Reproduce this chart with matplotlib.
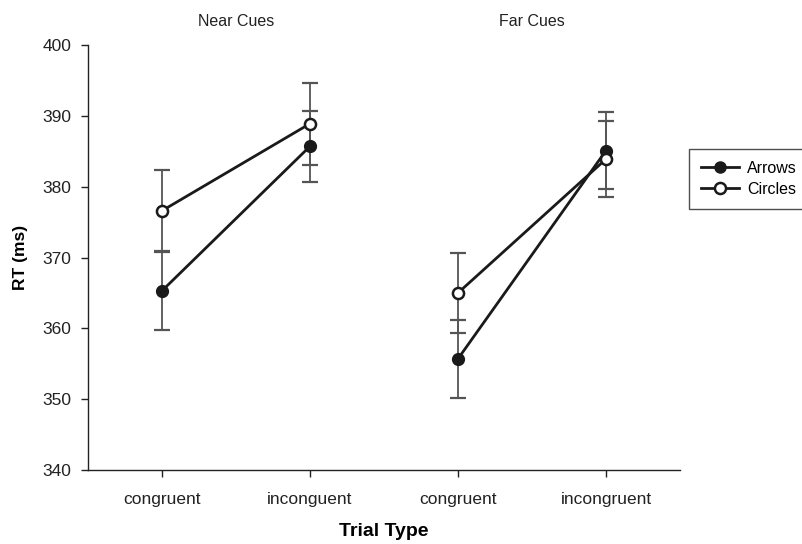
import matplotlib
matplotlib.use("Agg")
import matplotlib.pyplot as plt
from matplotlib.lines import Line2D

plt.rcParams['font.family'] = ['Liberation Sans', 'DejaVu Sans']

tick_labels = ["congruent", "inconguent", "congruent", "incongruent"]
groups = ["Near Cues", "Far Cues"]
arrows = [365.3, 385.7, 355.7, 385.1]
arrows_err = [5.5, 5.0, 5.5, 5.4]
circles = [376.6, 388.9, 365.0, 383.9]
circles_err = [5.7, 5.8, 5.7, 5.4]

fig = plt.figure(figsize=(8.02, 5.44), dpi=100)
ax = fig.add_axes([88/802, 1-470/544, (680-88)/802, (470-45)/544])

x = list(range(len(tick_labels)))
for seg in [(0, 2), (2, 4)]:
    xs = x[seg[0]:seg[1]]
    ax.errorbar(xs, circles[seg[0]:seg[1]], yerr=circles_err[seg[0]:seg[1]], fmt='none',
                ecolor='#555555', elinewidth=1.3, capsize=6, capthick=1.6, zorder=1)
    ax.errorbar(xs, arrows[seg[0]:seg[1]], yerr=arrows_err[seg[0]:seg[1]], fmt='none',
                ecolor='#555555', elinewidth=1.3, capsize=6, capthick=1.6, zorder=1)
    ax.plot(xs, arrows[seg[0]:seg[1]], '-', color='#1a1a1a', lw=2.0, marker='o',
            ms=8, mfc='#1a1a1a', mec='#1a1a1a', mew=1.5, zorder=3)
    ax.plot(xs, circles[seg[0]:seg[1]], '-', color='#1a1a1a', lw=2.0, marker='o',
            ms=8, mfc='white', mec='#1a1a1a', mew=1.8, zorder=3)

ax.set_xlim(-0.5, 3.5)
ax.set_ylim(340, 400)
ax.set_yticks(range(340, 401, 10))
ax.set_xticks(x)
ax.set_xticklabels(tick_labels)
ax.spines['top'].set_visible(False)
ax.spines['right'].set_visible(False)
for s in ['left', 'bottom']:
    ax.spines[s].set_linewidth(1.0)
    ax.spines[s].set_color('#222222')
ax.tick_params(axis='both', direction='out', length=5, width=1, labelsize=12.5, colors='#222222')
ax.tick_params(axis='x', pad=11)
ax.tick_params(axis='y', pad=7)

ax.set_ylabel("RT (ms)", fontsize=12.5, fontweight='bold', labelpad=10)
ax.set_xlabel("Trial Type", fontsize=14, fontweight='bold', labelpad=11)

for i, g in enumerate(groups):
    ax.text((x[2*i] + x[2*i+1]) / 2, 1.055, g, transform=ax.get_xaxis_transform(),
            ha='center', va='center', fontsize=11.5, color='#222222')

handles = [Line2D([], [], color='#1a1a1a', lw=2, marker='o', ms=8, mfc='#1a1a1a', mec='#1a1a1a'),
           Line2D([], [], color='#1a1a1a', lw=2, marker='o', ms=8, mfc='white', mec='#1a1a1a', mew=1.8)]
leg = fig.legend(handles, ["Arrows", "Circles"], loc='upper left',
                 bbox_to_anchor=(689/802, 1-149/544), fontsize=11.5, frameon=True,
                 fancybox=False, edgecolor='#222222', handlelength=2.4,
                 borderpad=0.75, labelspacing=0.35, handletextpad=0.5, borderaxespad=0)
leg.get_frame().set_linewidth(1.0)

fig.savefig("out.png", dpi=100)
